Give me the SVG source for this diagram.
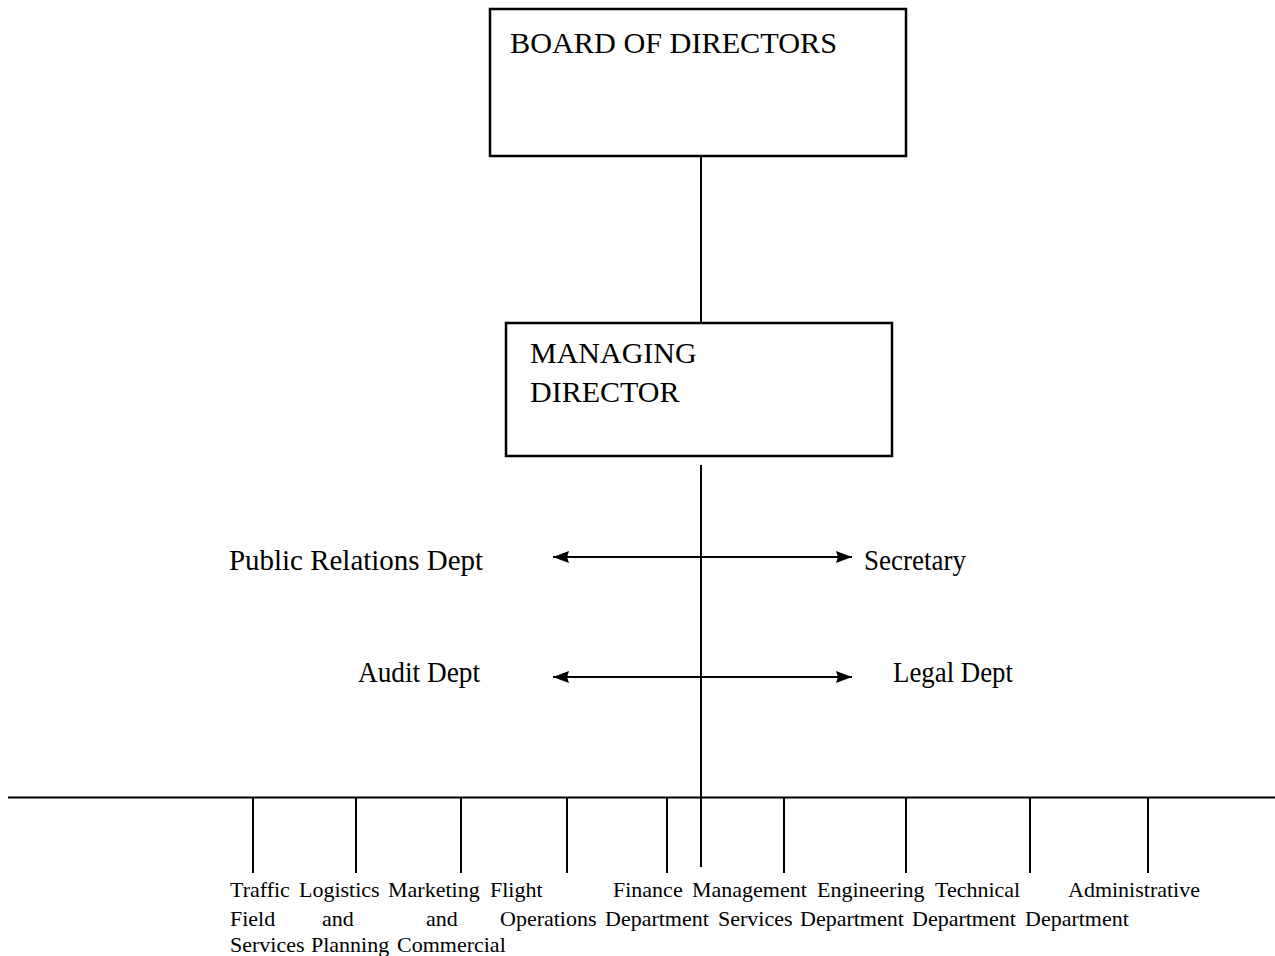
<svg xmlns="http://www.w3.org/2000/svg" width="1275" height="956" viewBox="0 0 1275 956">
<style>
.box{fill:#fff;stroke:#000;stroke-width:2.5}
.ln{stroke:#000;stroke-width:2;fill:none}
.t{font-family:"Liberation Serif","Times New Roman",serif;fill:#000}
.big{font-size:30px}
.sm{font-size:22px}
</style>
<defs>
<marker id="ah" markerUnits="userSpaceOnUse" markerWidth="20" markerHeight="16" refX="16" refY="7" orient="auto-start-reverse">
<path d="M0,1 L16,7 L0,13 L2,7 z" fill="#000"/>
</marker>
</defs>
<rect width="1275" height="956" fill="#fff"/>
<g id="connectors">
<line class="ln" x1="701" y1="156" x2="701" y2="323"/>
<line class="ln" x1="701" y1="465" x2="701" y2="867"/>
<line class="ln" x1="553" y1="557" x2="852" y2="557" stroke-width="2.5" marker-start="url(#ah)" marker-end="url(#ah)"/>
<line class="ln" x1="553" y1="677" x2="852" y2="677" stroke-width="2.5" marker-start="url(#ah)" marker-end="url(#ah)"/>
<line class="ln" x1="8" y1="797.5" x2="1275" y2="797.5"/>
<line class="ln" x1="253" y1="797" x2="253" y2="873"/>
<line class="ln" x1="356" y1="797" x2="356" y2="873"/>
<line class="ln" x1="461" y1="797" x2="461" y2="873"/>
<line class="ln" x1="567" y1="797" x2="567" y2="873"/>
<line class="ln" x1="667" y1="797" x2="667" y2="873"/>
<line class="ln" x1="784" y1="797" x2="784" y2="873"/>
<line class="ln" x1="906" y1="797" x2="906" y2="873"/>
<line class="ln" x1="1030" y1="797" x2="1030" y2="873"/>
<line class="ln" x1="1148" y1="797" x2="1148" y2="873"/>
</g>
<g id="board">
<rect class="box" x="490" y="9" width="416" height="147"/>
<text class="t big" x="510" y="53" textLength="327" lengthAdjust="spacingAndGlyphs">BOARD OF DIRECTORS</text>
</g>
<g id="md">
<rect class="box" x="506" y="323" width="386" height="133"/>
<text class="t big" x="530" y="363">MANAGING</text>
<text class="t big" x="530" y="402">DIRECTOR</text>
</g>
<g id="pr"><text class="t big" x="229" y="570" textLength="254" lengthAdjust="spacingAndGlyphs">Public Relations Dept</text></g>
<g id="secretary"><text class="t big" x="864" y="570" textLength="102" lengthAdjust="spacingAndGlyphs">Secretary</text></g>
<g id="audit"><text class="t big" x="358" y="682" textLength="122" lengthAdjust="spacingAndGlyphs">Audit Dept</text></g>
<g id="legal"><text class="t big" x="893" y="682" textLength="120" lengthAdjust="spacingAndGlyphs">Legal Dept</text></g>
<g id="traffic"><text class="t sm" y="897"><tspan x="230">Traffic</tspan><tspan x="230" y="926">Field</tspan><tspan x="230" y="952">Services</tspan></text></g>
<g id="logistics"><text class="t sm" y="897"><tspan x="299">Logistics</tspan><tspan x="322" y="926">and</tspan><tspan x="311" y="952">Planning</tspan></text></g>
<g id="marketing"><text class="t sm" y="897"><tspan x="388">Marketing</tspan><tspan x="426" y="926">and</tspan><tspan x="397" y="952">Commercial</tspan></text></g>
<g id="flight"><text class="t sm" y="897"><tspan x="490">Flight</tspan><tspan x="500" y="926">Operations</tspan></text></g>
<g id="finance"><text class="t sm" y="897"><tspan x="613">Finance</tspan><tspan x="605" y="926">Department</tspan></text></g>
<g id="management"><text class="t sm" y="897"><tspan x="692">Management</tspan><tspan x="718" y="926">Services</tspan></text></g>
<g id="engineering"><text class="t sm" y="897"><tspan x="817">Engineering</tspan><tspan x="800" y="926">Department</tspan></text></g>
<g id="technical"><text class="t sm" y="897"><tspan x="935">Technical</tspan><tspan x="912" y="926">Department</tspan></text></g>
<g id="administrative"><text class="t sm" y="897"><tspan x="1068">Administrative</tspan><tspan x="1025" y="926">Department</tspan></text></g>
</svg>
